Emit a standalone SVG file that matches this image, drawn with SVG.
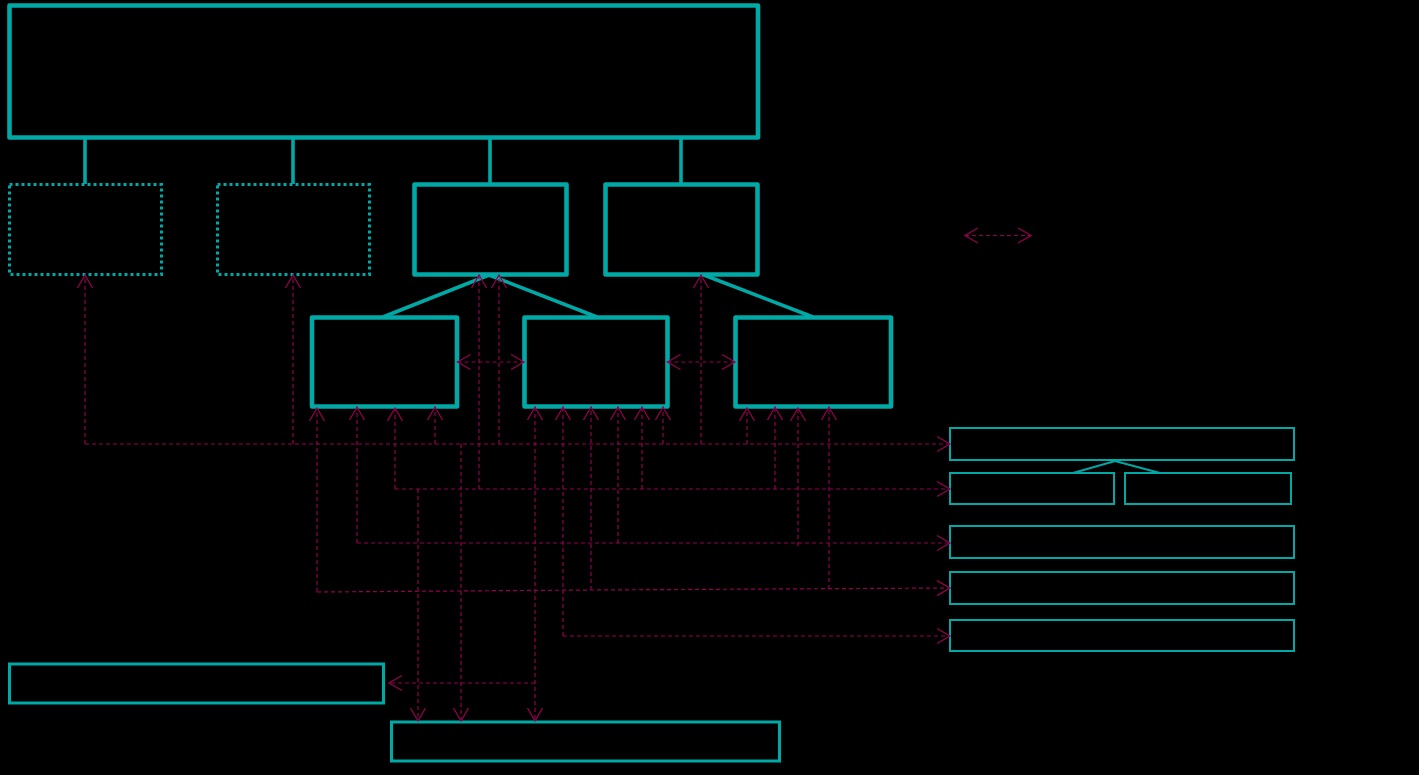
<svg xmlns="http://www.w3.org/2000/svg" width="1419" height="775" viewBox="0 0 1419 775">
<style>
.bg{fill:#000}
.n{fill:none;stroke:#00a8a6;stroke-width:4.6;stroke-linejoin:round}
.dot{fill:none;stroke:#00a8a6;stroke-width:3;stroke-dasharray:3 3}
.thin{fill:none;stroke:#00a8a6;stroke-width:2}
.mid{fill:none;stroke:#00a8a6;stroke-width:3}
.tree{fill:none;stroke:#00a8a6;stroke-width:3.6}
.treet{fill:none;stroke:#00a8a6;stroke-width:2}
.c{fill:none;stroke:#94004e;stroke-width:1.2;stroke-dasharray:4 3}
.ah{fill:none;stroke:#94004e;stroke-width:1.3;stroke-dasharray:none}
</style>
<defs>
<marker id="a" markerUnits="userSpaceOnUse" viewBox="-15 -9 17 18" refX="0" refY="0" markerWidth="17" markerHeight="18" orient="auto-start-reverse" overflow="visible">
<path class="ah" d="M-13,-7.5 L0,0 L-13,7.5"/>
</marker>
</defs>
<rect class="bg" x="0" y="0" width="1419" height="775"/>

<g id="tree-lines">
<path class="tree" d="M85,137 V184 M293,137 V184 M490,137 V184 M681,137 V184"/>
<path class="tree" d="M383,317 L489,275 L597,317 M704,275 L813,317"/>
<path class="treet" d="M1073,473 L1115,461 L1160,473"/>
</g>

<g id="node-top"><rect class="n" x="9.5" y="5.5" width="748.5" height="132"/></g>
<g id="node-a"><rect class="dot" x="9.5" y="184.5" width="152" height="90"/></g>
<g id="node-b"><rect class="dot" x="217.5" y="184.5" width="152" height="90"/></g>
<g id="node-c"><rect class="n" x="414.5" y="184.5" width="152" height="90"/></g>
<g id="node-d"><rect class="n" x="605.5" y="184.5" width="152" height="90"/></g>
<g id="node-e"><rect class="n" x="312" y="317.5" width="145" height="89"/></g>
<g id="node-f"><rect class="n" x="524.5" y="317.5" width="143" height="89"/></g>
<g id="node-g"><rect class="n" x="735.5" y="317.5" width="155.5" height="89"/></g>
<g id="node-r1"><rect class="thin" x="950" y="428" width="344" height="32"/></g>
<g id="node-r2a"><rect class="thin" x="950" y="473" width="164" height="31"/></g>
<g id="node-r2b"><rect class="thin" x="1125" y="473" width="166" height="31"/></g>
<g id="node-r3"><rect class="thin" x="950" y="526" width="344" height="32"/></g>
<g id="node-r4"><rect class="thin" x="950" y="572" width="344" height="32"/></g>
<g id="node-r5"><rect class="thin" x="950" y="620" width="344" height="31"/></g>
<g id="node-bl"><rect class="mid" x="9.5" y="664" width="374" height="39"/></g>
<g id="node-bottom"><rect class="mid" x="391.5" y="722" width="388" height="39"/></g>

<g id="connectors">
<path class="c" d="M85,444 H950" marker-end="url(#a)"/>
<path class="c" d="M85,444 V275" marker-end="url(#a)"/>
<path class="c" d="M293,444 V275" marker-end="url(#a)"/>
<path class="c" d="M435,444 V407" marker-end="url(#a)"/>
<path class="c" d="M499,444 V275" marker-end="url(#a)"/>
<path class="c" d="M663,444 V407" marker-end="url(#a)"/>
<path class="c" d="M701,444 V275" marker-end="url(#a)"/>
<path class="c" d="M747,444 V408" marker-end="url(#a)"/>

<path class="c" d="M395,489 H950" marker-end="url(#a)"/>
<path class="c" d="M395,489 V408" marker-end="url(#a)"/>
<path class="c" d="M479,489 V275" marker-end="url(#a)"/>
<path class="c" d="M642,489 V407" marker-end="url(#a)"/>
<path class="c" d="M775,489 V407" marker-end="url(#a)"/>
<path class="c" d="M418,489 V721" marker-end="url(#a)"/>

<path class="c" d="M357,543 H950" marker-end="url(#a)"/>
<path class="c" d="M357,543 V407" marker-end="url(#a)"/>
<path class="c" d="M618,543 V407" marker-end="url(#a)"/>
<path class="c" d="M798,546 V408" marker-end="url(#a)"/>

<path class="c" d="M317,592 L591,590 L950,588" marker-end="url(#a)"/>
<path class="c" d="M317,592 V408" marker-end="url(#a)"/>
<path class="c" d="M591,590 V407" marker-end="url(#a)"/>
<path class="c" d="M829,589 V407" marker-end="url(#a)"/>

<path class="c" d="M563,636 H950" marker-end="url(#a)"/>
<path class="c" d="M563,636 V407" marker-end="url(#a)"/>

<path class="c" d="M461,444 V721" marker-end="url(#a)"/>
<path class="c" d="M535,407 V721" marker-start="url(#a)" marker-end="url(#a)"/>
<path class="c" d="M535,683 H389" marker-end="url(#a)"/>

<path class="c" d="M457.5,362 H524" marker-start="url(#a)" marker-end="url(#a)"/>
<path class="c" d="M667.5,362 H735" marker-start="url(#a)" marker-end="url(#a)"/>
<path class="c" d="M965,235.5 H1031" marker-start="url(#a)" marker-end="url(#a)"/>
</g>
</svg>
